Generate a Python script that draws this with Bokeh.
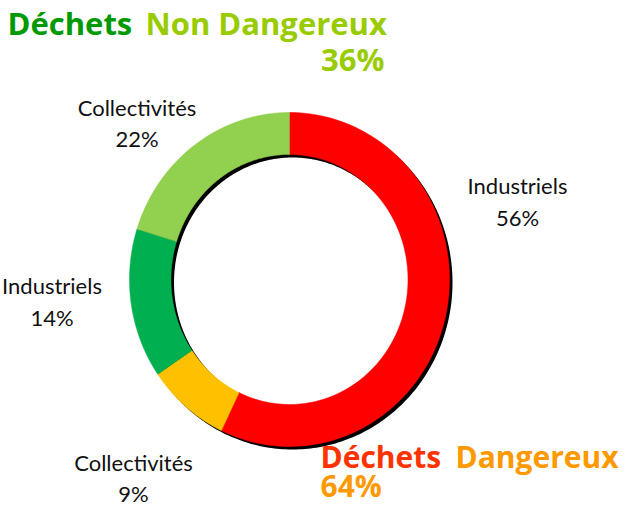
import numpy as np
from bokeh.plotting import figure
from bokeh.models import Range1d, ColumnDataSource
from bokeh.core.properties import value
from bokeh.embed import file_html
from bokeh.resources import INLINE

# ---- data ----
categories = ["Industriels", "Collectivités", "Industriels", "Collectivités"]
groups = ["Dangereux", "Dangereux", "Non Dangereux", "Non Dangereux"]
shares = [57.0, 8.4, 14.5, 20.1]          # slice sizes as drawn (clockwise from top)
pct_labels = ["56%", "9%", "14%", "22%"]  # labels as printed
colors = ["#FF0000", "#FFC000", "#00B050", "#92D050"]
title_nd_total = "36%"
title_d_total = "64%"

# ---- layout (screen-like coordinates, y downward) ----
W, H = 622, 507
cx, cy = 297.0, 287.0
rx_out, ry_out = 160.0, 167.0
rx_in, ry_in = 118.5, 125.0
shadow_dx, shadow_dy = 3.0, 3.0
K_LATO = 0.385   # renderer draws "alphabetic" text this many em below the anchor
K_OPEN = 0.39

p = figure(width=W, height=H, output_backend="svg", toolbar_location=None,
           x_range=Range1d(8, 8 + W), y_range=Range1d(8 + H, 8),
           x_axis_type=None, y_axis_type=None, min_border=0,
           outline_line_color=None, background_fill_color="white",
           border_fill_color="white")
p.grid.visible = False


def arc(t0, t1, rx, ry, ox=0.0, oy=0.0, n=120):
    t = np.linspace(t0, t1, n)
    return cx + ox + rx * np.sin(t), cy + oy - ry * np.cos(t)


# shadow ring (full annulus with hole), offset down-right
ox_, oy_ = arc(0, 2 * np.pi, rx_out, ry_out, shadow_dx, shadow_dy, 360)
ix_, iy_ = arc(0, 2 * np.pi, rx_in, ry_in, shadow_dx, shadow_dy, 360)
p.multi_polygons(xs=[[[list(ox_), list(ix_)]]], ys=[[[list(oy_), list(iy_)]]],
                 fill_color="black", line_color=None)

# slices
total = float(sum(shares))
cum = np.concatenate([[0.0], np.cumsum(shares)]) / total * 2 * np.pi
xs, ys = [], []
for i in range(len(shares)):
    a0, a1 = cum[i], cum[i + 1]
    xo, yo = arc(a0, a1, rx_out, ry_out)
    xi, yi = arc(a1, a0, rx_in, ry_in)
    xs.append(list(np.concatenate([xo, xi])))
    ys.append(list(np.concatenate([yo, yi])))
src = ColumnDataSource(dict(xs=xs, ys=ys, color=colors, cat=categories, grp=groups))
p.patches("xs", "ys", source=src, fill_color="color", line_color="color", line_width=0.5)

# data labels (category + percentage), placed as in the reference
LS = 22
lab_x = [525.0, 141.0, 59.5, 144.5]
lab_b1 = [201.5, 478.0, 301.0, 123.0]
lab_b2 = [233.5, 509.5, 333.0, 154.0]
lsrc = ColumnDataSource(dict(x=lab_x,
                             y1=[b - K_LATO * LS for b in lab_b1],
                             y2=[b - K_LATO * LS for b in lab_b2],
                             name=categories, pct=pct_labels))
for ycol, tcol in (("y1", "name"), ("y2", "pct")):
    p.text(x="x", y=ycol, text=tcol, source=lsrc, text_align="center",
           text_baseline="alphabetic", text_font=value("Lato"),
           text_font_size=f"{LS}px", text_color="#111111")

# titles
tf = value("Open Sans")


def title(x, base, txt, color, size, align="left"):
    p.text(x=[x], y=[base - K_OPEN * size], text=[txt], text_font=tf,
           text_font_style="bold", text_font_size=f"{size}px", text_color=color,
           text_baseline="alphabetic", text_align=align)


title(15, 42.5, "Déchets", "#009A00", 31)
title(153, 42.5, "Non Dangereux", "#99CC00", 31)
title(392, 79, title_nd_total, "#99CC00", 31, "right")
title(328, 476, "Déchets", "#FF3300", 30)
title(463, 476, "Dangereux", "#FF9900", 30)
title(328, 505, title_d_total, "#FF9900", 30)

open("out.html", "w").write(file_html(p, INLINE))
